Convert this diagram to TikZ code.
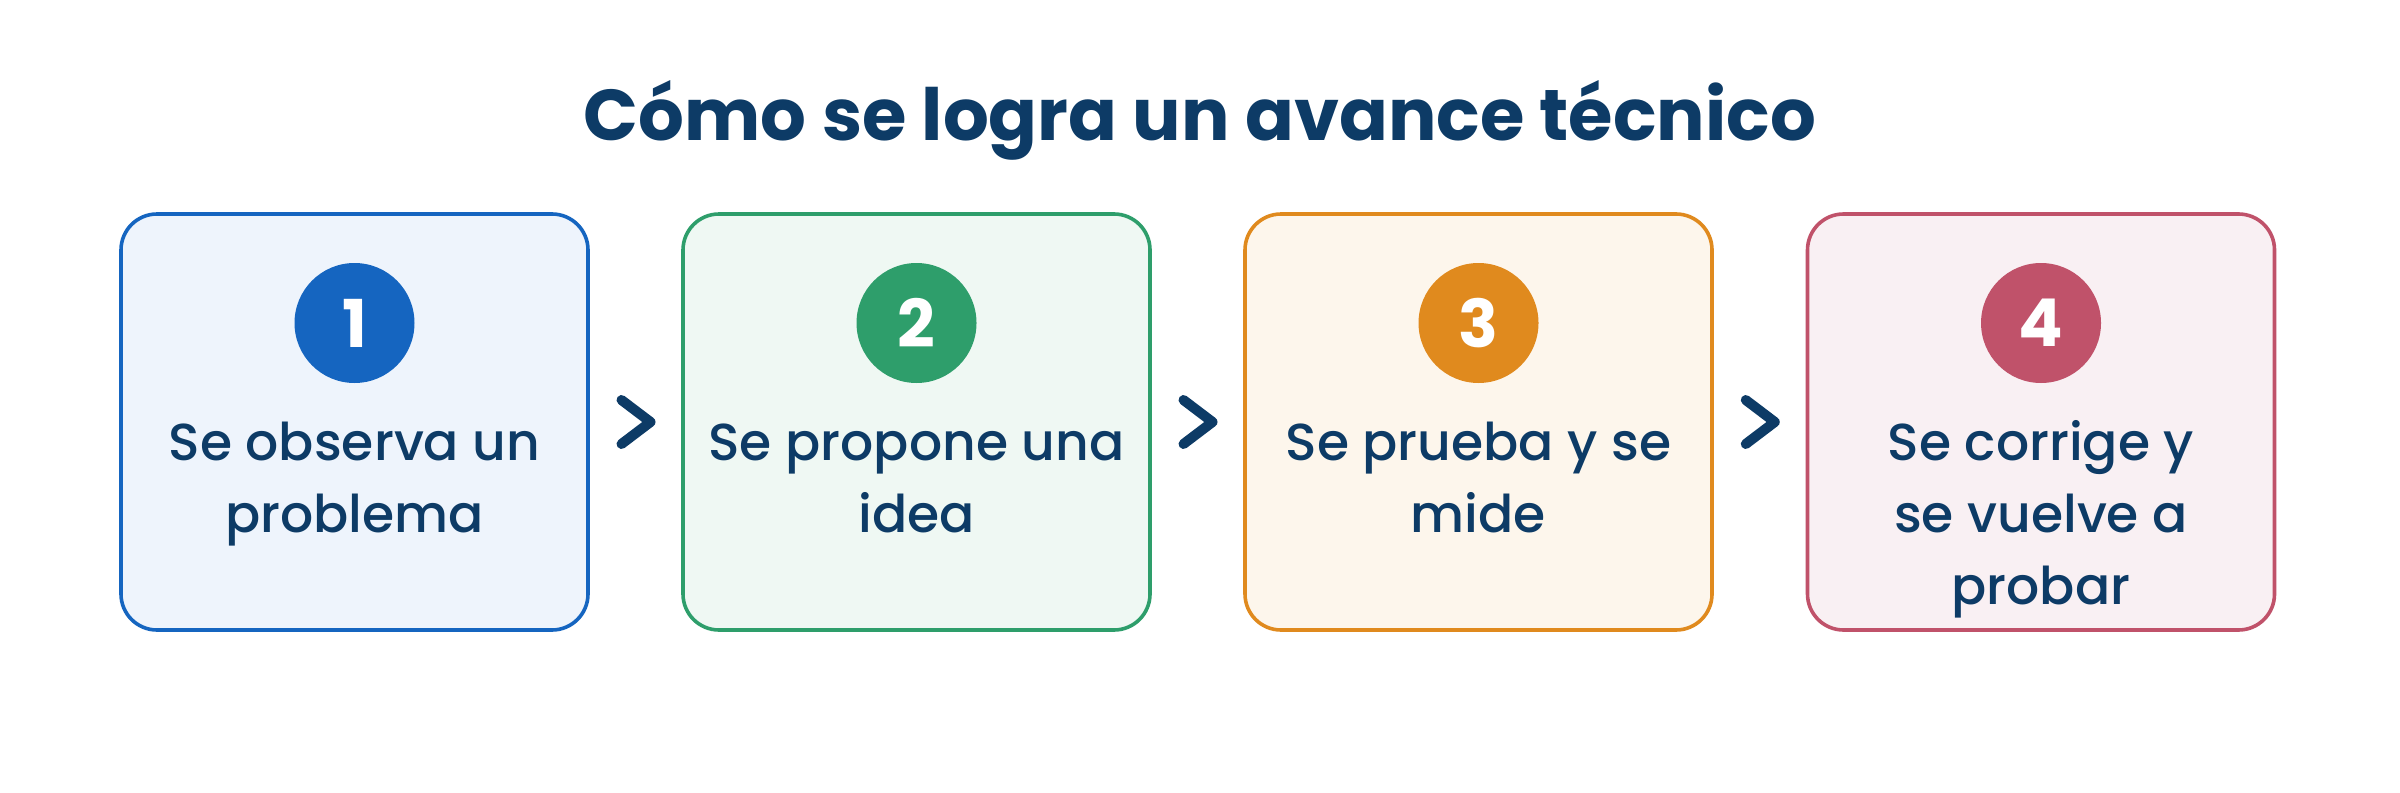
\documentclass[tikz,border=0pt]{standalone}
\usepackage{fontspec}
\setmainfont{Poppins}
\newfontfamily\medfont{Poppins Medium}
\usetikzlibrary{calc}

\definecolor{navy}{HTML}{0D3B66}
\definecolor{blueline}{HTML}{1565C0}
\definecolor{bluefill}{HTML}{EEF4FC}
\definecolor{greenline}{HTML}{2E9E6B}
\definecolor{greenfill}{HTML}{EFF8F3}
\definecolor{orangeline}{HTML}{E08A1E}
\definecolor{orangefill}{HTML}{FDF6EC}
\definecolor{roseline}{HTML}{C0526A}
\definecolor{rosefill}{HTML}{F9F0F3}

\newcommand{\firstline}{\rule{0pt}{40pt}}

\tikzset{
  stepbox/.style 2 args={draw=#1, fill=#2, line width=3.6pt, rounded corners=36pt,
    minimum width=467pt, minimum height=416pt, inner sep=0pt},
  numdisc/.style={circle, fill=#1, text=white, minimum size=120pt, inner sep=0pt,
    font=\bfseries\fontsize{66}{66}\selectfont},
  steptext/.style={text=navy, align=center, anchor=north, inner sep=0pt,
    font=\medfont\fontsize{52}{72}\selectfont},
  chevron/.style={draw=navy, line width=10pt, line cap=round, line join=round}
}

\begin{document}
\begin{tikzpicture}[x=1pt, y=-1pt]
\useasboundingbox[fill=white] (0,0) rectangle (2400,792);

\node[text=navy, anchor=base, font=\bfseries\fontsize{72}{72}\selectfont] (title) at (1200,140) {Cómo se logra un avance técnico};

\node[stepbox={blueline}{bluefill}] (S1) at (354.5,422) {};
\node[stepbox={greenline}{greenfill}] (S2) at (916.5,422) {};
\node[stepbox={orangeline}{orangefill}] (S3) at (1478.5,422) {};
\node[stepbox={roseline}{rosefill}] (S4) at (2041,422) {};

\node[numdisc=blueline] (N1) at (354.5,323) {1};
\node[numdisc=greenline] (N2) at (916.5,323) {2};
\node[numdisc=orangeline] (N3) at (1478.5,323) {3};
\node[numdisc=roseline] (N4) at (2041,323) {4};

\node[steptext] (T1) at (354.5,420) {\firstline Se observa un\\problema};
\node[steptext] (T2) at (916.5,420) {\firstline Se propone una\\idea};
\node[steptext] (T3) at (1478.5,420) {\firstline Se prueba y se\\mide};
\node[steptext] (T4) at (2041,420) {\firstline Se corrige y\\se vuelve a\\probar};

\coordinate (M1) at ($(S1.east)!0.5!(S2.west)$);
\coordinate (M2) at ($(S2.east)!0.5!(S3.west)$);
\coordinate (M3) at ($(S3.east)!0.5!(S4.west)$);

\draw[chevron] ($(M1)+(-14,-22)$) -- ($(M1)+(15,0)$) -- ($(M1)+(-14,22)$);
\draw[chevron] ($(M2)+(-14,-22)$) -- ($(M2)+(15,0)$) -- ($(M2)+(-14,22)$);
\draw[chevron] ($(M3)+(-14,-22)$) -- ($(M3)+(15,0)$) -- ($(M3)+(-14,22)$);

\end{tikzpicture}
\end{document}
